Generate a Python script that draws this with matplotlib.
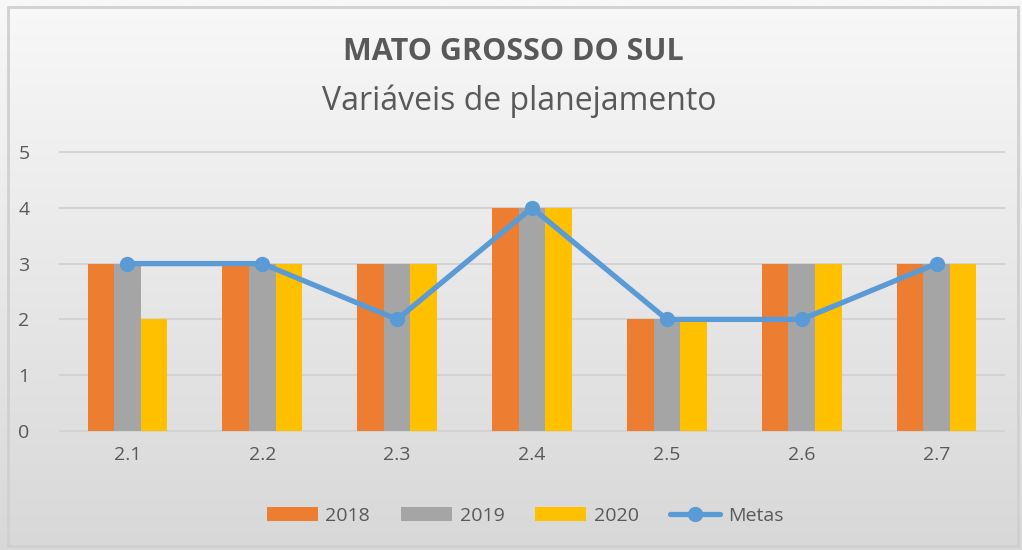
import numpy as np
import matplotlib.pyplot as plt
from matplotlib.patches import Rectangle

categorias = ['2.1', '2.2', '2.3', '2.4', '2.5', '2.6', '2.7']
v2018 = [3, 3, 3, 4, 2, 3, 3]
v2019 = [3, 3, 3, 4, 2, 3, 3]
v2020 = [2, 3, 3, 4, 2, 3, 3]
metas = [3, 3, 2, 4, 2, 2, 3]

plt.rcParams['font.family'] = ['Open Sans', 'DejaVu Sans']
cinza = '#595959'

fig = plt.figure(figsize=(10.22, 5.5), dpi=100)

# fundo em degrade
bg = fig.add_axes([0, 0, 1, 1], zorder=-10)
grad = np.linspace(0, 1, 256).reshape(-1, 1)
bg.imshow(grad, aspect='auto', cmap=plt.matplotlib.colors.LinearSegmentedColormap.from_list(
    'g', ['#f8f8f8', '#d8d8d8']), extent=[0, 1, 0, 1], origin='upper')
bg.add_patch(Rectangle((8 / 1022, 4 / 550), 1010 / 1022, 539 / 550, fill=False,
                       edgecolor='#d0d0d0', lw=2))
bg.set_xlim(0, 1)
bg.set_ylim(0, 1)
bg.axis('off')

ax = fig.add_axes([60 / 1022, 119 / 550, 944 / 1022, 279 / 550])
ax.set_facecolor('none')

x = np.arange(len(categorias))
w = 0.197
b1 = ax.bar(x - w, v2018, w, color='#ED7D31', label='2018', zorder=2)
b2 = ax.bar(x, v2019, w, color='#A5A5A5', label='2019', zorder=2)
b3 = ax.bar(x + w, v2020, w, color='#FFC000', label='2020', zorder=2)
ln, = ax.plot(x, metas, color='#5B9BD5', lw=3.8, marker='o', ms=10, label='Metas', zorder=3,
              solid_capstyle='round')

ax.set_xlim(-0.5, len(categorias) - 0.5)
ax.set_ylim(0, 5)
ax.set_yticks(range(6))
ax.set_xticks(x)
ax.set_xticklabels(categorias)
ax.grid(axis='y', color='#d3d3d3', lw=1.5, zorder=0, clip_on=False)
for s in ax.spines.values():
    s.set_visible(False)
ax.tick_params(length=0, labelsize=14, labelcolor=cinza)
ax.tick_params(axis='x', pad=11)
ax.tick_params(axis='y', pad=22)

fig.text(0.502, 0.905, 'MATO GROSSO DO SUL', ha='center', va='center', fontsize=22,
         fontweight='bold', color=cinza)
fig.text(0.508, 0.816, 'Variáveis de planejamento', ha='center', va='center', fontsize=23,
         color=cinza)

fig.legend([b1, b2, b3, ln], ['2018', '2019', '2020', 'Metas'], loc='center',
           bbox_to_anchor=(0.514, 0.062), ncol=4, frameon=False,
           fontsize=14, labelcolor=cinza, handlelength=2.6, handleheight=0.75,
           columnspacing=1.6, handletextpad=0.4)

fig.savefig('out.png', dpi=100)
